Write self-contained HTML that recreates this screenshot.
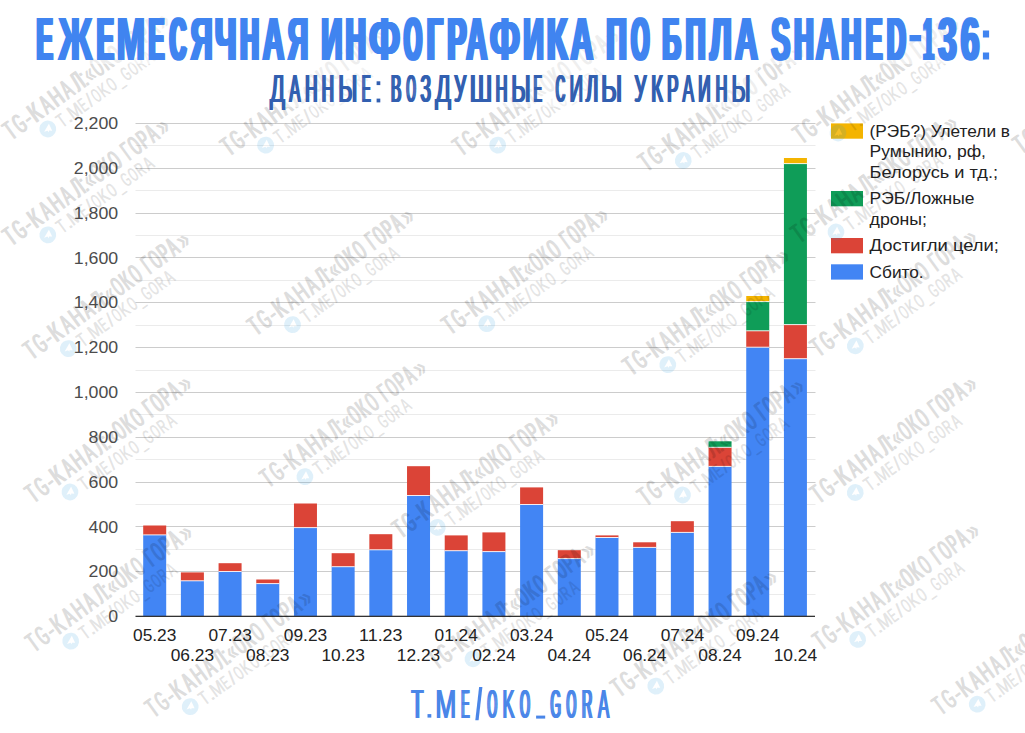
<!DOCTYPE html>
<html><head><meta charset="utf-8"><title>Shahed-136</title>
<style>html,body{margin:0;padding:0;background:#fff}body{width:1025px;height:733px;overflow:hidden;position:relative;font-family:"Liberation Sans",sans-serif}svg{position:absolute;left:0;top:0;display:block}text{font-family:"Liberation Sans",sans-serif;white-space:pre}</style></head><body>
<svg width="1025" height="733" viewBox="0 0 1025 733">
<defs>
<g id="wm"><g transform="rotate(-36)"><g opacity="0.13"><g font-size="27.6" fill="#000"><text transform="translate(-36.60,-11.7) scale(0.4993,1)">T</text><text transform="translate(-35.90,-11.7) scale(0.4993,1)">T</text><text transform="translate(-35.20,-11.7) scale(0.4993,1)">T</text><text transform="translate(-25.48,-11.7) scale(0.4657,1)">G</text><text transform="translate(-24.78,-11.7) scale(0.4657,1)">G</text><text transform="translate(-24.08,-11.7) scale(0.4657,1)">G</text><text transform="translate(-13.71,-11.7) scale(0.7690,1)">-</text><text transform="translate(-13.51,-11.7) scale(0.7690,1)">-</text><text transform="translate(-6.59,-11.7) scale(0.6514,1)">К</text><text transform="translate(-5.89,-11.7) scale(0.6514,1)">К</text><text transform="translate(-5.19,-11.7) scale(0.6514,1)">К</text><text transform="translate(7.42,-11.7) scale(0.5184,1)">А</text><text transform="translate(8.12,-11.7) scale(0.5184,1)">А</text><text transform="translate(8.82,-11.7) scale(0.5184,1)">А</text><text transform="translate(19.29,-11.7) scale(0.5769,1)">Н</text><text transform="translate(19.99,-11.7) scale(0.5769,1)">Н</text><text transform="translate(20.69,-11.7) scale(0.5769,1)">Н</text><text transform="translate(33.14,-11.7) scale(0.5184,1)">А</text><text transform="translate(33.84,-11.7) scale(0.5184,1)">А</text><text transform="translate(34.54,-11.7) scale(0.5184,1)">А</text><text transform="translate(46.19,-11.7) scale(0.5692,1)">Л</text><text transform="translate(46.89,-11.7) scale(0.5692,1)">Л</text><text transform="translate(47.59,-11.7) scale(0.5692,1)">Л</text><text transform="translate(55.30,-11.7) scale(0.7548,1)">:</text><text transform="translate(56.30,-11.7) scale(0.7548,1)">:</text><text transform="translate(60.83,-11.7) scale(0.6020,1)">«</text><text transform="translate(61.63,-11.7) scale(0.6020,1)">«</text><text transform="translate(71.06,-11.7) scale(0.4138,1)">О</text><text transform="translate(71.76,-11.7) scale(0.4138,1)">О</text><text transform="translate(72.46,-11.7) scale(0.4138,1)">О</text><text transform="translate(81.54,-11.7) scale(0.5563,1)">К</text><text transform="translate(82.24,-11.7) scale(0.5563,1)">К</text><text transform="translate(82.94,-11.7) scale(0.5563,1)">К</text><text transform="translate(92.86,-11.7) scale(0.4138,1)">О</text><text transform="translate(93.56,-11.7) scale(0.4138,1)">О</text><text transform="translate(94.26,-11.7) scale(0.4138,1)">О</text><text transform="translate(108.72,-11.7) scale(0.4765,1)">Г</text><text transform="translate(109.42,-11.7) scale(0.4765,1)">Г</text><text transform="translate(110.12,-11.7) scale(0.4765,1)">Г</text><text transform="translate(117.66,-11.7) scale(0.4138,1)">О</text><text transform="translate(118.36,-11.7) scale(0.4138,1)">О</text><text transform="translate(119.06,-11.7) scale(0.4138,1)">О</text><text transform="translate(128.41,-11.7) scale(0.4831,1)">Р</text><text transform="translate(129.11,-11.7) scale(0.4831,1)">Р</text><text transform="translate(129.81,-11.7) scale(0.4831,1)">Р</text><text transform="translate(138.98,-11.7) scale(0.4584,1)">А</text><text transform="translate(139.68,-11.7) scale(0.4584,1)">А</text><text transform="translate(140.38,-11.7) scale(0.4584,1)">А</text><text transform="translate(150.72,-11.7) scale(0.7010,1)">»</text><text transform="translate(151.52,-11.7) scale(0.7010,1)">»</text></g></g><path fill-rule="evenodd" fill="#2a9be0" fill-opacity="0.15" d="M-8.4 0A8.4 8.4 0 1 0 8.4 0A8.4 8.4 0 1 0 -8.4 0ZM-4.6 0.2L4 -3.6L2.6 3.9L0.1 2L-1.1 3.2L-1.2 1.2Z"/><path d="M-4.6 0.2L4 -3.6L2.6 3.9L0.1 2L-1.1 3.2L-1.2 1.2Z" fill="#fff" fill-opacity="0.15"/><g opacity="0.1"><g font-size="19.8" fill="#000"><text transform="translate(11.91,8.0) scale(0.6692,1)">T</text><text transform="translate(12.41,8.0) scale(0.6692,1)">T</text><text transform="translate(20.05,8.0) scale(1.2100,1)">.</text><text transform="translate(20.25,8.0) scale(1.2100,1)">.</text><text transform="translate(25.47,8.0) scale(0.7927,1)">M</text><text transform="translate(25.97,8.0) scale(0.7927,1)">M</text><text transform="translate(38.96,8.0) scale(0.5120,1)">E</text><text transform="translate(39.46,8.0) scale(0.5120,1)">E</text><text transform="translate(47.82,8.0) scale(0.9084,1)">/</text><text transform="translate(48.32,8.0) scale(0.9084,1)">/</text><text transform="translate(54.90,8.0) scale(0.4806,1)">O</text><text transform="translate(55.40,8.0) scale(0.4806,1)">O</text><text transform="translate(63.31,8.0) scale(0.6599,1)">K</text><text transform="translate(63.81,8.0) scale(0.6599,1)">K</text><text transform="translate(73.96,8.0) scale(0.4806,1)">O</text><text transform="translate(74.46,8.0) scale(0.4806,1)">O</text><text transform="translate(83.60,8.0) scale(0.5198,1)">_</text><text transform="translate(84.10,8.0) scale(0.5198,1)">_</text><text transform="translate(91.47,8.0) scale(0.5023,1)">G</text><text transform="translate(91.97,8.0) scale(0.5023,1)">G</text><text transform="translate(100.55,8.0) scale(0.4806,1)">O</text><text transform="translate(101.05,8.0) scale(0.4806,1)">O</text><text transform="translate(109.13,8.0) scale(0.5527,1)">R</text><text transform="translate(109.63,8.0) scale(0.5527,1)">R</text><text transform="translate(119.04,8.0) scale(0.6085,1)">A</text><text transform="translate(119.54,8.0) scale(0.6085,1)">A</text></g></g></g></g>
</defs>
<rect x="135.5" y="594" width="680.0" height="1" fill="#ebebeb"/>
<rect x="135.5" y="571" width="680.0" height="1" fill="#cccccc"/>
<rect x="135.5" y="549" width="680.0" height="1" fill="#ebebeb"/>
<rect x="135.5" y="526" width="680.0" height="1" fill="#cccccc"/>
<rect x="135.5" y="504" width="680.0" height="1" fill="#ebebeb"/>
<rect x="135.5" y="482" width="680.0" height="1" fill="#cccccc"/>
<rect x="135.5" y="459" width="680.0" height="1" fill="#ebebeb"/>
<rect x="135.5" y="437" width="680.0" height="1" fill="#cccccc"/>
<rect x="135.5" y="414" width="680.0" height="1" fill="#ebebeb"/>
<rect x="135.5" y="392" width="680.0" height="1" fill="#cccccc"/>
<rect x="135.5" y="370" width="680.0" height="1" fill="#ebebeb"/>
<rect x="135.5" y="347" width="680.0" height="1" fill="#cccccc"/>
<rect x="135.5" y="325" width="680.0" height="1" fill="#ebebeb"/>
<rect x="135.5" y="302" width="680.0" height="1" fill="#cccccc"/>
<rect x="135.5" y="280" width="680.0" height="1" fill="#ebebeb"/>
<rect x="135.5" y="257" width="680.0" height="1" fill="#cccccc"/>
<rect x="135.5" y="235" width="680.0" height="1" fill="#ebebeb"/>
<rect x="135.5" y="213" width="680.0" height="1" fill="#cccccc"/>
<rect x="135.5" y="190" width="680.0" height="1" fill="#ebebeb"/>
<rect x="135.5" y="168" width="680.0" height="1" fill="#cccccc"/>
<rect x="135.5" y="145" width="680.0" height="1" fill="#ebebeb"/>
<rect x="135.5" y="123" width="680.0" height="1" fill="#cccccc"/>
<rect x="143.20" y="534.90" width="23.0" height="81.10" fill="#4285f4"/>
<rect x="143.20" y="525.50" width="23.0" height="9.40" fill="#db4437"/>
<rect x="143.20" y="534.40" width="23.0" height="1" fill="#fff" fill-opacity="0.85"/>
<rect x="180.89" y="580.80" width="23.0" height="35.20" fill="#4285f4"/>
<rect x="180.89" y="572.40" width="23.0" height="8.40" fill="#db4437"/>
<rect x="180.89" y="580.30" width="23.0" height="1" fill="#fff" fill-opacity="0.85"/>
<rect x="218.58" y="571.50" width="23.0" height="44.50" fill="#4285f4"/>
<rect x="218.58" y="563.20" width="23.0" height="8.30" fill="#db4437"/>
<rect x="218.58" y="571.00" width="23.0" height="1" fill="#fff" fill-opacity="0.85"/>
<rect x="256.27" y="583.60" width="23.0" height="32.40" fill="#4285f4"/>
<rect x="256.27" y="579.50" width="23.0" height="4.10" fill="#db4437"/>
<rect x="256.27" y="583.10" width="23.0" height="1" fill="#fff" fill-opacity="0.85"/>
<rect x="293.96" y="527.60" width="23.0" height="88.40" fill="#4285f4"/>
<rect x="293.96" y="503.50" width="23.0" height="24.10" fill="#db4437"/>
<rect x="293.96" y="527.10" width="23.0" height="1" fill="#fff" fill-opacity="0.85"/>
<rect x="331.65" y="566.70" width="23.0" height="49.30" fill="#4285f4"/>
<rect x="331.65" y="553.20" width="23.0" height="13.50" fill="#db4437"/>
<rect x="331.65" y="566.20" width="23.0" height="1" fill="#fff" fill-opacity="0.85"/>
<rect x="369.34" y="549.80" width="23.0" height="66.20" fill="#4285f4"/>
<rect x="369.34" y="534.20" width="23.0" height="15.60" fill="#db4437"/>
<rect x="369.34" y="549.30" width="23.0" height="1" fill="#fff" fill-opacity="0.85"/>
<rect x="407.03" y="495.50" width="23.0" height="120.50" fill="#4285f4"/>
<rect x="407.03" y="466.20" width="23.0" height="29.30" fill="#db4437"/>
<rect x="407.03" y="495.00" width="23.0" height="1" fill="#fff" fill-opacity="0.85"/>
<rect x="444.72" y="550.70" width="23.0" height="65.30" fill="#4285f4"/>
<rect x="444.72" y="535.40" width="23.0" height="15.30" fill="#db4437"/>
<rect x="444.72" y="550.20" width="23.0" height="1" fill="#fff" fill-opacity="0.85"/>
<rect x="482.41" y="551.60" width="23.0" height="64.40" fill="#4285f4"/>
<rect x="482.41" y="532.40" width="23.0" height="19.20" fill="#db4437"/>
<rect x="482.41" y="551.10" width="23.0" height="1" fill="#fff" fill-opacity="0.85"/>
<rect x="520.10" y="504.50" width="23.0" height="111.50" fill="#4285f4"/>
<rect x="520.10" y="487.40" width="23.0" height="17.10" fill="#db4437"/>
<rect x="520.10" y="504.00" width="23.0" height="1" fill="#fff" fill-opacity="0.85"/>
<rect x="557.79" y="558.60" width="23.0" height="57.40" fill="#4285f4"/>
<rect x="557.79" y="550.20" width="23.0" height="8.40" fill="#db4437"/>
<rect x="557.79" y="558.10" width="23.0" height="1" fill="#fff" fill-opacity="0.85"/>
<rect x="595.48" y="537.50" width="23.0" height="78.50" fill="#4285f4"/>
<rect x="595.48" y="535.40" width="23.0" height="2.10" fill="#db4437"/>
<rect x="595.48" y="537.00" width="23.0" height="1" fill="#fff" fill-opacity="0.85"/>
<rect x="633.17" y="547.40" width="23.0" height="68.60" fill="#4285f4"/>
<rect x="633.17" y="542.30" width="23.0" height="5.10" fill="#db4437"/>
<rect x="633.17" y="546.90" width="23.0" height="1" fill="#fff" fill-opacity="0.85"/>
<rect x="670.86" y="532.40" width="23.0" height="83.60" fill="#4285f4"/>
<rect x="670.86" y="521.20" width="23.0" height="11.20" fill="#db4437"/>
<rect x="670.86" y="531.90" width="23.0" height="1" fill="#fff" fill-opacity="0.85"/>
<rect x="708.55" y="466.40" width="23.0" height="149.60" fill="#4285f4"/>
<rect x="708.55" y="447.30" width="23.0" height="19.10" fill="#db4437"/>
<rect x="708.55" y="441.30" width="23.0" height="6.00" fill="#0f9d58"/>
<rect x="708.55" y="465.90" width="23.0" height="1" fill="#fff" fill-opacity="0.85"/>
<rect x="708.55" y="446.80" width="23.0" height="1" fill="#fff" fill-opacity="0.85"/>
<rect x="746.24" y="347.20" width="23.0" height="268.80" fill="#4285f4"/>
<rect x="746.24" y="330.80" width="23.0" height="16.40" fill="#db4437"/>
<rect x="746.24" y="301.60" width="23.0" height="29.20" fill="#0f9d58"/>
<rect x="746.24" y="296.00" width="23.0" height="5.60" fill="#f4b400"/>
<rect x="746.24" y="346.70" width="23.0" height="1" fill="#fff" fill-opacity="0.85"/>
<rect x="746.24" y="330.30" width="23.0" height="1" fill="#fff" fill-opacity="0.85"/>
<rect x="746.24" y="301.10" width="23.0" height="1" fill="#fff" fill-opacity="0.85"/>
<rect x="783.93" y="358.70" width="23.0" height="257.30" fill="#4285f4"/>
<rect x="783.93" y="324.60" width="23.0" height="34.10" fill="#db4437"/>
<rect x="783.93" y="163.60" width="23.0" height="161.00" fill="#0f9d58"/>
<rect x="783.93" y="158.00" width="23.0" height="5.60" fill="#f4b400"/>
<rect x="783.93" y="358.20" width="23.0" height="1" fill="#fff" fill-opacity="0.85"/>
<rect x="783.93" y="324.10" width="23.0" height="1" fill="#fff" fill-opacity="0.85"/>
<rect x="783.93" y="163.10" width="23.0" height="1" fill="#fff" fill-opacity="0.85"/>
<rect x="135.5" y="615.7" width="679.5" height="1.3" fill="#333"/>
<rect x="831" y="123.4" width="32" height="15.3" fill="#f4b400"/>
<rect x="831" y="191.0" width="32" height="15.3" fill="#0f9d58"/>
<rect x="831" y="238.0" width="32" height="15.3" fill="#db4437"/>
<rect x="831" y="264.3" width="32" height="15.3" fill="#4285f4"/>
<use href="#wm" x="47.8" y="129"/>
<use href="#wm" x="265.6" y="145.1"/>
<use href="#wm" x="47.8" y="234.9"/>
<use href="#wm" x="497.7" y="145.1"/>
<use href="#wm" x="683.3" y="160.5"/>
<use href="#wm" x="838" y="133"/>
<use href="#wm" x="1058" y="143"/>
<use href="#wm" x="836" y="232"/>
<use href="#wm" x="68.3" y="348.6"/>
<use href="#wm" x="292.5" y="324.6"/>
<use href="#wm" x="70" y="492"/>
<use href="#wm" x="304.9" y="476.6"/>
<use href="#wm" x="486.8" y="323.7"/>
<use href="#wm" x="667.8" y="364.6"/>
<use href="#wm" x="855.3" y="345.8"/>
<use href="#wm" x="855.3" y="492.5"/>
<use href="#wm" x="70.7" y="641.1"/>
<use href="#wm" x="190.2" y="706.6"/>
<use href="#wm" x="437.3" y="527.4"/>
<use href="#wm" x="682.5" y="495"/>
<use href="#wm" x="473" y="658.8"/>
<use href="#wm" x="655.8" y="686.1"/>
<use href="#wm" x="857.7" y="639.4"/>
<use href="#wm" x="977.2" y="704.2"/>
<text x="108.3" y="622.1" font-size="15.8" fill="#4c4c4c" textLength="9.9" lengthAdjust="spacingAndGlyphs">0</text>
<text x="88.6" y="577.3" font-size="15.8" fill="#4c4c4c" textLength="29.6" lengthAdjust="spacingAndGlyphs">200</text>
<text x="88.6" y="532.5" font-size="15.8" fill="#4c4c4c" textLength="29.6" lengthAdjust="spacingAndGlyphs">400</text>
<text x="88.6" y="487.6" font-size="15.8" fill="#4c4c4c" textLength="29.6" lengthAdjust="spacingAndGlyphs">600</text>
<text x="88.6" y="442.8" font-size="15.8" fill="#4c4c4c" textLength="29.6" lengthAdjust="spacingAndGlyphs">800</text>
<text x="73.8" y="398.0" font-size="15.8" fill="#4c4c4c" textLength="44.4" lengthAdjust="spacingAndGlyphs">1,000</text>
<text x="73.8" y="353.2" font-size="15.8" fill="#4c4c4c" textLength="44.4" lengthAdjust="spacingAndGlyphs">1,200</text>
<text x="73.8" y="308.4" font-size="15.8" fill="#4c4c4c" textLength="44.4" lengthAdjust="spacingAndGlyphs">1,400</text>
<text x="73.8" y="263.6" font-size="15.8" fill="#4c4c4c" textLength="44.4" lengthAdjust="spacingAndGlyphs">1,600</text>
<text x="73.8" y="218.7" font-size="15.8" fill="#4c4c4c" textLength="44.4" lengthAdjust="spacingAndGlyphs">1,800</text>
<text x="73.8" y="173.9" font-size="15.8" fill="#4c4c4c" textLength="44.4" lengthAdjust="spacingAndGlyphs">2,000</text>
<text x="73.8" y="129.1" font-size="15.8" fill="#4c4c4c" textLength="44.4" lengthAdjust="spacingAndGlyphs">2,200</text>
<text x="133.0" y="640.6" font-size="15.8" fill="#222" textLength="43.4" lengthAdjust="spacingAndGlyphs">05.23</text>
<text x="170.7" y="661.3" font-size="15.8" fill="#222" textLength="43.4" lengthAdjust="spacingAndGlyphs">06.23</text>
<text x="208.4" y="640.6" font-size="15.8" fill="#222" textLength="43.4" lengthAdjust="spacingAndGlyphs">07.23</text>
<text x="246.1" y="661.3" font-size="15.8" fill="#222" textLength="43.4" lengthAdjust="spacingAndGlyphs">08.23</text>
<text x="283.8" y="640.6" font-size="15.8" fill="#222" textLength="43.4" lengthAdjust="spacingAndGlyphs">09.23</text>
<text x="321.4" y="661.3" font-size="15.8" fill="#222" textLength="43.4" lengthAdjust="spacingAndGlyphs">10.23</text>
<text x="359.1" y="640.6" font-size="15.8" fill="#222" textLength="43.4" lengthAdjust="spacingAndGlyphs">11.23</text>
<text x="396.8" y="661.3" font-size="15.8" fill="#222" textLength="43.4" lengthAdjust="spacingAndGlyphs">12.23</text>
<text x="434.5" y="640.6" font-size="15.8" fill="#222" textLength="43.4" lengthAdjust="spacingAndGlyphs">01.24</text>
<text x="472.2" y="661.3" font-size="15.8" fill="#222" textLength="43.4" lengthAdjust="spacingAndGlyphs">02.24</text>
<text x="509.9" y="640.6" font-size="15.8" fill="#222" textLength="43.4" lengthAdjust="spacingAndGlyphs">03.24</text>
<text x="547.6" y="661.3" font-size="15.8" fill="#222" textLength="43.4" lengthAdjust="spacingAndGlyphs">04.24</text>
<text x="585.3" y="640.6" font-size="15.8" fill="#222" textLength="43.4" lengthAdjust="spacingAndGlyphs">05.24</text>
<text x="623.0" y="661.3" font-size="15.8" fill="#222" textLength="43.4" lengthAdjust="spacingAndGlyphs">06.24</text>
<text x="660.7" y="640.6" font-size="15.8" fill="#222" textLength="43.4" lengthAdjust="spacingAndGlyphs">07.24</text>
<text x="698.3" y="661.3" font-size="15.8" fill="#222" textLength="43.4" lengthAdjust="spacingAndGlyphs">08.24</text>
<text x="736.0" y="640.6" font-size="15.8" fill="#222" textLength="43.4" lengthAdjust="spacingAndGlyphs">09.24</text>
<text x="773.7" y="661.3" font-size="15.8" fill="#222" textLength="43.4" lengthAdjust="spacingAndGlyphs">10.24</text>
<text x="869.6" y="136.6" font-size="15.8" fill="#222" textLength="140.4" lengthAdjust="spacingAndGlyphs">(РЭБ?) Улетели в</text>
<text x="869.6" y="157.1" font-size="15.8" fill="#222" textLength="116.4" lengthAdjust="spacingAndGlyphs">Румынию, рф,</text>
<text x="869.6" y="177.6" font-size="15.8" fill="#222" textLength="128.4" lengthAdjust="spacingAndGlyphs">Белорусь и тд.;</text>
<text x="869.6" y="204.2" font-size="15.8" fill="#222" textLength="104.8" lengthAdjust="spacingAndGlyphs">РЭБ/Ложные</text>
<text x="869.6" y="224.7" font-size="15.8" fill="#222" textLength="57.4" lengthAdjust="spacingAndGlyphs">дроны;</text>
<text x="869.6" y="251.2" font-size="15.8" fill="#222" textLength="129.4" lengthAdjust="spacingAndGlyphs">Достигли цели;</text>
<text x="869.6" y="277.5" font-size="15.8" fill="#222" textLength="54.0" lengthAdjust="spacingAndGlyphs">Сбито.</text>
<rect x="0" y="0" width="1025" height="64" fill="#fff" fill-opacity="0.5"/><rect x="262" y="64" width="496" height="43" fill="#fff" fill-opacity="0.5"/>
<g font-size="61" font-weight="bold" fill="#4084f0"><text transform="translate(35.02,59.5) scale(0.3883,1)">Е</text><text transform="translate(35.90,59.5) scale(0.3883,1)">Е</text><text transform="translate(36.77,59.5) scale(0.3883,1)">Е</text><text transform="translate(37.65,59.5) scale(0.3883,1)">Е</text><text transform="translate(38.52,59.5) scale(0.3883,1)">Е</text><text transform="translate(57.41,59.5) scale(0.6094,1)">Ж</text><text transform="translate(58.41,59.5) scale(0.6094,1)">Ж</text><text transform="translate(59.41,59.5) scale(0.6094,1)">Ж</text><text transform="translate(95.14,59.5) scale(0.4087,1)">Е</text><text transform="translate(96.02,59.5) scale(0.4087,1)">Е</text><text transform="translate(96.89,59.5) scale(0.4087,1)">Е</text><text transform="translate(97.77,59.5) scale(0.4087,1)">Е</text><text transform="translate(98.64,59.5) scale(0.4087,1)">Е</text><text transform="translate(115.43,59.5) scale(0.5597,1)">М</text><text transform="translate(116.23,59.5) scale(0.5597,1)">М</text><text transform="translate(117.03,59.5) scale(0.5597,1)">М</text><text transform="translate(117.83,59.5) scale(0.5597,1)">М</text><text transform="translate(147.07,59.5) scale(0.3766,1)">Е</text><text transform="translate(147.95,59.5) scale(0.3766,1)">Е</text><text transform="translate(148.82,59.5) scale(0.3766,1)">Е</text><text transform="translate(149.70,59.5) scale(0.3766,1)">Е</text><text transform="translate(150.57,59.5) scale(0.3766,1)">Е</text><text transform="translate(167.97,59.5) scale(0.3735,1)">С</text><text transform="translate(168.84,59.5) scale(0.3735,1)">С</text><text transform="translate(169.72,59.5) scale(0.3735,1)">С</text><text transform="translate(170.59,59.5) scale(0.3735,1)">С</text><text transform="translate(171.47,59.5) scale(0.3735,1)">С</text><text transform="translate(189.18,59.5) scale(0.4983,1)">Я</text><text transform="translate(190.18,59.5) scale(0.4983,1)">Я</text><text transform="translate(191.18,59.5) scale(0.4983,1)">Я</text><text transform="translate(192.18,59.5) scale(0.4983,1)">Я</text><text transform="translate(213.51,59.5) scale(0.4873,1)">Ч</text><text transform="translate(214.38,59.5) scale(0.4873,1)">Ч</text><text transform="translate(215.26,59.5) scale(0.4873,1)">Ч</text><text transform="translate(216.13,59.5) scale(0.4873,1)">Ч</text><text transform="translate(217.01,59.5) scale(0.4873,1)">Ч</text><text transform="translate(238.38,59.5) scale(0.4234,1)">Н</text><text transform="translate(239.26,59.5) scale(0.4234,1)">Н</text><text transform="translate(240.13,59.5) scale(0.4234,1)">Н</text><text transform="translate(241.01,59.5) scale(0.4234,1)">Н</text><text transform="translate(241.88,59.5) scale(0.4234,1)">Н</text><text transform="translate(261.27,59.5) scale(0.4858,1)">А</text><text transform="translate(262.27,59.5) scale(0.4858,1)">А</text><text transform="translate(263.27,59.5) scale(0.4858,1)">А</text><text transform="translate(264.27,59.5) scale(0.4858,1)">А</text><text transform="translate(286.42,59.5) scale(0.4595,1)">Я</text><text transform="translate(287.42,59.5) scale(0.4595,1)">Я</text><text transform="translate(288.42,59.5) scale(0.4595,1)">Я</text><text transform="translate(289.42,59.5) scale(0.4595,1)">Я</text><text transform="translate(319.65,59.5) scale(0.4840,1)">И</text><text transform="translate(320.65,59.5) scale(0.4840,1)">И</text><text transform="translate(321.65,59.5) scale(0.4840,1)">И</text><text transform="translate(322.65,59.5) scale(0.4840,1)">И</text><text transform="translate(344.06,59.5) scale(0.4541,1)">Н</text><text transform="translate(344.93,59.5) scale(0.4541,1)">Н</text><text transform="translate(345.81,59.5) scale(0.4541,1)">Н</text><text transform="translate(346.68,59.5) scale(0.4541,1)">Н</text><text transform="translate(347.56,59.5) scale(0.4541,1)">Н</text><text transform="translate(367.64,59.5) scale(0.5976,1)">Ф</text><text transform="translate(368.51,59.5) scale(0.5976,1)">Ф</text><text transform="translate(369.38,59.5) scale(0.5976,1)">Ф</text><text transform="translate(370.24,59.5) scale(0.5976,1)">Ф</text><text transform="translate(402.26,59.5) scale(0.3774,1)">О</text><text transform="translate(403.13,59.5) scale(0.3774,1)">О</text><text transform="translate(404.01,59.5) scale(0.3774,1)">О</text><text transform="translate(404.88,59.5) scale(0.3774,1)">О</text><text transform="translate(405.76,59.5) scale(0.3774,1)">О</text><text transform="translate(425.28,59.5) scale(0.4499,1)">Г</text><text transform="translate(426.15,59.5) scale(0.4499,1)">Г</text><text transform="translate(427.03,59.5) scale(0.4499,1)">Г</text><text transform="translate(427.90,59.5) scale(0.4499,1)">Г</text><text transform="translate(428.78,59.5) scale(0.4499,1)">Г</text><text transform="translate(445.82,59.5) scale(0.4630,1)">Р</text><text transform="translate(446.70,59.5) scale(0.4630,1)">Р</text><text transform="translate(447.57,59.5) scale(0.4630,1)">Р</text><text transform="translate(448.45,59.5) scale(0.4630,1)">Р</text><text transform="translate(449.32,59.5) scale(0.4630,1)">Р</text><text transform="translate(464.78,59.5) scale(0.4785,1)">А</text><text transform="translate(465.78,59.5) scale(0.4785,1)">А</text><text transform="translate(466.78,59.5) scale(0.4785,1)">А</text><text transform="translate(467.78,59.5) scale(0.4785,1)">А</text><text transform="translate(488.48,59.5) scale(0.5809,1)">Ф</text><text transform="translate(489.34,59.5) scale(0.5809,1)">Ф</text><text transform="translate(490.21,59.5) scale(0.5809,1)">Ф</text><text transform="translate(491.08,59.5) scale(0.5809,1)">Ф</text><text transform="translate(521.81,59.5) scale(0.4700,1)">И</text><text transform="translate(522.81,59.5) scale(0.4700,1)">И</text><text transform="translate(523.81,59.5) scale(0.4700,1)">И</text><text transform="translate(524.81,59.5) scale(0.4700,1)">И</text><text transform="translate(545.07,59.5) scale(0.5740,1)">К</text><text transform="translate(546.00,59.5) scale(0.5740,1)">К</text><text transform="translate(546.94,59.5) scale(0.5740,1)">К</text><text transform="translate(547.87,59.5) scale(0.5740,1)">К</text><text transform="translate(569.03,59.5) scale(0.5151,1)">А</text><text transform="translate(570.03,59.5) scale(0.5151,1)">А</text><text transform="translate(571.03,59.5) scale(0.5151,1)">А</text><text transform="translate(572.03,59.5) scale(0.5151,1)">А</text><text transform="translate(604.74,59.5) scale(0.4592,1)">П</text><text transform="translate(605.61,59.5) scale(0.4592,1)">П</text><text transform="translate(606.49,59.5) scale(0.4592,1)">П</text><text transform="translate(607.36,59.5) scale(0.4592,1)">П</text><text transform="translate(608.24,59.5) scale(0.4592,1)">П</text><text transform="translate(629.45,59.5) scale(0.3798,1)">О</text><text transform="translate(630.33,59.5) scale(0.3798,1)">О</text><text transform="translate(631.20,59.5) scale(0.3798,1)">О</text><text transform="translate(632.08,59.5) scale(0.3798,1)">О</text><text transform="translate(632.95,59.5) scale(0.3798,1)">О</text><text transform="translate(660.72,59.5) scale(0.4145,1)">Б</text><text transform="translate(661.59,59.5) scale(0.4145,1)">Б</text><text transform="translate(662.47,59.5) scale(0.4145,1)">Б</text><text transform="translate(663.34,59.5) scale(0.4145,1)">Б</text><text transform="translate(664.22,59.5) scale(0.4145,1)">Б</text><text transform="translate(684.08,59.5) scale(0.4480,1)">П</text><text transform="translate(684.96,59.5) scale(0.4480,1)">П</text><text transform="translate(685.83,59.5) scale(0.4480,1)">П</text><text transform="translate(686.71,59.5) scale(0.4480,1)">П</text><text transform="translate(687.58,59.5) scale(0.4480,1)">П</text><text transform="translate(708.39,59.5) scale(0.4958,1)">Л</text><text transform="translate(709.27,59.5) scale(0.4958,1)">Л</text><text transform="translate(710.14,59.5) scale(0.4958,1)">Л</text><text transform="translate(711.02,59.5) scale(0.4958,1)">Л</text><text transform="translate(711.89,59.5) scale(0.4958,1)">Л</text><text transform="translate(733.43,59.5) scale(0.5176,1)">А</text><text transform="translate(734.43,59.5) scale(0.5176,1)">А</text><text transform="translate(735.43,59.5) scale(0.5176,1)">А</text><text transform="translate(736.43,59.5) scale(0.5176,1)">А</text><text transform="translate(769.79,59.5) scale(0.4649,1)">S</text><text transform="translate(770.79,59.5) scale(0.4649,1)">S</text><text transform="translate(771.79,59.5) scale(0.4649,1)">S</text><text transform="translate(772.79,59.5) scale(0.4649,1)">S</text><text transform="translate(792.53,59.5) scale(0.4373,1)">H</text><text transform="translate(793.40,59.5) scale(0.4373,1)">H</text><text transform="translate(794.28,59.5) scale(0.4373,1)">H</text><text transform="translate(795.15,59.5) scale(0.4373,1)">H</text><text transform="translate(796.03,59.5) scale(0.4373,1)">H</text><text transform="translate(814.33,59.5) scale(0.5176,1)">A</text><text transform="translate(815.33,59.5) scale(0.5176,1)">A</text><text transform="translate(816.33,59.5) scale(0.5176,1)">A</text><text transform="translate(817.33,59.5) scale(0.5176,1)">A</text><text transform="translate(839.79,59.5) scale(0.4457,1)">H</text><text transform="translate(840.67,59.5) scale(0.4457,1)">H</text><text transform="translate(841.54,59.5) scale(0.4457,1)">H</text><text transform="translate(842.42,59.5) scale(0.4457,1)">H</text><text transform="translate(843.29,59.5) scale(0.4457,1)">H</text><text transform="translate(864.19,59.5) scale(0.3971,1)">E</text><text transform="translate(865.06,59.5) scale(0.3971,1)">E</text><text transform="translate(865.94,59.5) scale(0.3971,1)">E</text><text transform="translate(866.81,59.5) scale(0.3971,1)">E</text><text transform="translate(867.69,59.5) scale(0.3971,1)">E</text><text transform="translate(885.18,59.5) scale(0.4245,1)">D</text><text transform="translate(886.05,59.5) scale(0.4245,1)">D</text><text transform="translate(886.93,59.5) scale(0.4245,1)">D</text><text transform="translate(887.80,59.5) scale(0.4245,1)">D</text><text transform="translate(888.68,59.5) scale(0.4245,1)">D</text><text transform="translate(921.63,59.5) scale(0.3061,1)">1</text><text transform="translate(922.63,59.5) scale(0.3061,1)">1</text><text transform="translate(923.63,59.5) scale(0.3061,1)">1</text><text transform="translate(924.63,59.5) scale(0.3061,1)">1</text><text transform="translate(936.85,59.5) scale(0.5432,1)">3</text><text transform="translate(937.85,59.5) scale(0.5432,1)">3</text><text transform="translate(938.85,59.5) scale(0.5432,1)">3</text><text transform="translate(939.85,59.5) scale(0.5432,1)">3</text><text transform="translate(959.28,59.5) scale(0.5487,1)">6</text><text transform="translate(960.28,59.5) scale(0.5487,1)">6</text><text transform="translate(961.28,59.5) scale(0.5487,1)">6</text><text transform="translate(962.28,59.5) scale(0.5487,1)">6</text></g>
<rect x="909.5" y="35" width="11.7" height="6.3" fill="#4084f0"/>
<rect x="982.9" y="30.5" width="6.2" height="7" fill="#4084f0"/><rect x="982.9" y="52.5" width="6.2" height="7" fill="#4084f0"/>
<g font-size="39.6" fill="#325fb0"><text transform="translate(269.25,102.3) scale(0.5539,1)">Д</text><text transform="translate(270.05,102.3) scale(0.5539,1)">Д</text><text transform="translate(270.85,102.3) scale(0.5539,1)">Д</text><text transform="translate(288.48,102.3) scale(0.4145,1)">А</text><text transform="translate(289.33,102.3) scale(0.4145,1)">А</text><text transform="translate(290.18,102.3) scale(0.4145,1)">А</text><text transform="translate(304.22,102.3) scale(0.4246,1)">Н</text><text transform="translate(305.22,102.3) scale(0.4246,1)">Н</text><text transform="translate(306.22,102.3) scale(0.4246,1)">Н</text><text transform="translate(320.72,102.3) scale(0.4246,1)">Н</text><text transform="translate(321.72,102.3) scale(0.4246,1)">Н</text><text transform="translate(322.72,102.3) scale(0.4246,1)">Н</text><text transform="translate(337.45,102.3) scale(0.5390,1)">Ы</text><text transform="translate(338.30,102.3) scale(0.5390,1)">Ы</text><text transform="translate(339.15,102.3) scale(0.5390,1)">Ы</text><text transform="translate(360.96,102.3) scale(0.3212,1)">Е</text><text transform="translate(361.96,102.3) scale(0.3212,1)">Е</text><text transform="translate(362.96,102.3) scale(0.3212,1)">Е</text><text transform="translate(389.94,102.3) scale(0.3889,1)">В</text><text transform="translate(390.94,102.3) scale(0.3889,1)">В</text><text transform="translate(391.94,102.3) scale(0.3889,1)">В</text><text transform="translate(405.54,102.3) scale(0.2995,1)">О</text><text transform="translate(406.54,102.3) scale(0.2995,1)">О</text><text transform="translate(407.54,102.3) scale(0.2995,1)">О</text><text transform="translate(419.54,102.3) scale(0.4350,1)">З</text><text transform="translate(420.54,102.3) scale(0.4350,1)">З</text><text transform="translate(421.54,102.3) scale(0.4350,1)">З</text><text transform="translate(434.44,102.3) scale(0.5848,1)">Д</text><text transform="translate(435.24,102.3) scale(0.5848,1)">Д</text><text transform="translate(436.04,102.3) scale(0.5848,1)">Д</text><text transform="translate(453.20,102.3) scale(0.4771,1)">У</text><text transform="translate(454.05,102.3) scale(0.4771,1)">У</text><text transform="translate(454.90,102.3) scale(0.4771,1)">У</text><text transform="translate(468.87,102.3) scale(0.6242,1)">Ш</text><text transform="translate(469.67,102.3) scale(0.6242,1)">Ш</text><text transform="translate(470.47,102.3) scale(0.6242,1)">Ш</text><text transform="translate(494.78,102.3) scale(0.4066,1)">Н</text><text transform="translate(495.78,102.3) scale(0.4066,1)">Н</text><text transform="translate(496.78,102.3) scale(0.4066,1)">Н</text><text transform="translate(510.53,102.3) scale(0.5460,1)">Ы</text><text transform="translate(511.38,102.3) scale(0.5460,1)">Ы</text><text transform="translate(512.23,102.3) scale(0.5460,1)">Ы</text><text transform="translate(532.82,102.3) scale(0.3026,1)">Е</text><text transform="translate(533.82,102.3) scale(0.3026,1)">Е</text><text transform="translate(534.82,102.3) scale(0.3026,1)">Е</text><text transform="translate(554.75,102.3) scale(0.3266,1)">С</text><text transform="translate(555.75,102.3) scale(0.3266,1)">С</text><text transform="translate(556.75,102.3) scale(0.3266,1)">С</text><text transform="translate(568.65,102.3) scale(0.4778,1)">И</text><text transform="translate(569.50,102.3) scale(0.4778,1)">И</text><text transform="translate(570.35,102.3) scale(0.4778,1)">И</text><text transform="translate(584.94,102.3) scale(0.4681,1)">Л</text><text transform="translate(585.94,102.3) scale(0.4681,1)">Л</text><text transform="translate(586.94,102.3) scale(0.4681,1)">Л</text><text transform="translate(600.26,102.3) scale(0.5985,1)">Ы</text><text transform="translate(601.11,102.3) scale(0.5985,1)">Ы</text><text transform="translate(601.96,102.3) scale(0.5985,1)">Ы</text><text transform="translate(633.60,102.3) scale(0.4771,1)">У</text><text transform="translate(634.45,102.3) scale(0.4771,1)">У</text><text transform="translate(635.30,102.3) scale(0.4771,1)">У</text><text transform="translate(650.34,102.3) scale(0.5102,1)">К</text><text transform="translate(651.19,102.3) scale(0.5102,1)">К</text><text transform="translate(652.04,102.3) scale(0.5102,1)">К</text><text transform="translate(666.23,102.3) scale(0.4221,1)">Р</text><text transform="translate(667.23,102.3) scale(0.4221,1)">Р</text><text transform="translate(668.23,102.3) scale(0.4221,1)">Р</text><text transform="translate(681.67,102.3) scale(0.4374,1)">А</text><text transform="translate(682.52,102.3) scale(0.4374,1)">А</text><text transform="translate(683.37,102.3) scale(0.4374,1)">А</text><text transform="translate(697.37,102.3) scale(0.4414,1)">И</text><text transform="translate(698.22,102.3) scale(0.4414,1)">И</text><text transform="translate(699.07,102.3) scale(0.4414,1)">И</text><text transform="translate(714.69,102.3) scale(0.4021,1)">Н</text><text transform="translate(715.69,102.3) scale(0.4021,1)">Н</text><text transform="translate(716.69,102.3) scale(0.4021,1)">Н</text><text transform="translate(730.64,102.3) scale(0.5425,1)">Ы</text><text transform="translate(731.49,102.3) scale(0.5425,1)">Ы</text><text transform="translate(732.34,102.3) scale(0.5425,1)">Ы</text></g>
<rect x="376.6" y="81.3" width="3.7" height="3.8" fill="#325fb0"/><rect x="376.6" y="98.6" width="3.7" height="3.8" fill="#325fb0"/>
<g font-size="40.2" fill="#4a86e8"><text transform="translate(410.48,717.6) scale(0.4791,1)">T</text><text transform="translate(411.48,717.6) scale(0.4791,1)">T</text><text transform="translate(412.48,717.6) scale(0.4791,1)">T</text><text transform="translate(434.64,717.6) scale(0.6247,1)">M</text><text transform="translate(435.34,717.6) scale(0.6247,1)">M</text><text transform="translate(436.04,717.6) scale(0.6247,1)">M</text><text transform="translate(460.30,717.6) scale(0.3026,1)">E</text><text transform="translate(461.30,717.6) scale(0.3026,1)">E</text><text transform="translate(462.30,717.6) scale(0.3026,1)">E</text><text transform="translate(486.52,717.6) scale(0.3059,1)">O</text><text transform="translate(487.52,717.6) scale(0.3059,1)">O</text><text transform="translate(488.52,717.6) scale(0.3059,1)">O</text><text transform="translate(501.71,717.6) scale(0.4507,1)">K</text><text transform="translate(502.51,717.6) scale(0.4507,1)">K</text><text transform="translate(503.31,717.6) scale(0.4507,1)">K</text><text transform="translate(518.90,717.6) scale(0.3169,1)">O</text><text transform="translate(519.90,717.6) scale(0.3169,1)">O</text><text transform="translate(520.90,717.6) scale(0.3169,1)">O</text><text transform="translate(549.43,717.6) scale(0.3312,1)">G</text><text transform="translate(550.43,717.6) scale(0.3312,1)">G</text><text transform="translate(551.43,717.6) scale(0.3312,1)">G</text><text transform="translate(565.62,717.6) scale(0.3096,1)">O</text><text transform="translate(566.62,717.6) scale(0.3096,1)">O</text><text transform="translate(567.62,717.6) scale(0.3096,1)">O</text><text transform="translate(580.94,717.6) scale(0.3518,1)">R</text><text transform="translate(581.94,717.6) scale(0.3518,1)">R</text><text transform="translate(582.94,717.6) scale(0.3518,1)">R</text><text transform="translate(597.27,717.6) scale(0.4158,1)">A</text><text transform="translate(598.07,717.6) scale(0.4158,1)">A</text><text transform="translate(598.87,717.6) scale(0.4158,1)">A</text></g>
<rect x="427.5" y="714.1" width="3.8" height="3.5" fill="#4a86e8"/>
<rect x="536.1" y="715.6" width="9.1" height="3" fill="#4a86e8"/>
<path d="M475.3 720.2L478.6 720.2L482.4 687L479.1 687Z" fill="#4a86e8"/>
</svg></body></html>
